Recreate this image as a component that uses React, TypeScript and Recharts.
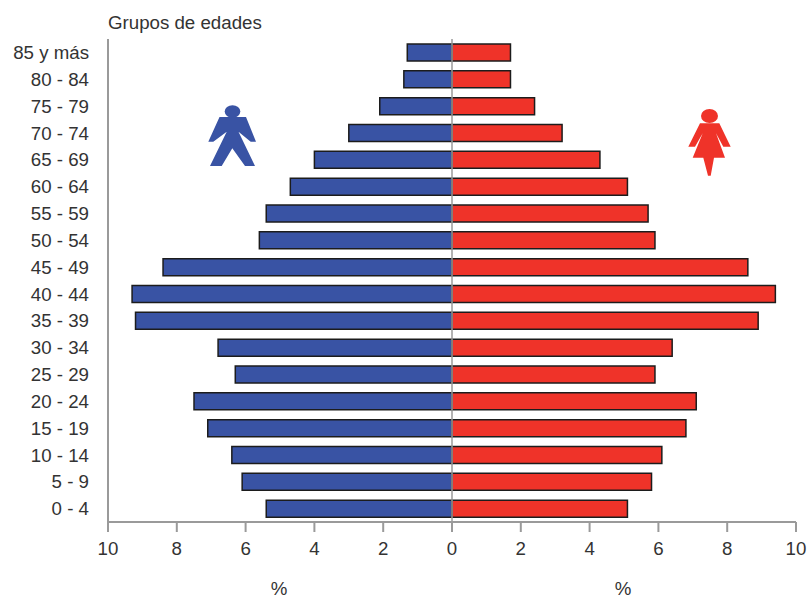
import { BarChart, Bar, XAxis, YAxis, ReferenceLine } from "recharts";

const ageGroups = ["85 y más", "80 - 84", "75 - 79", "70 - 74", "65 - 69", "60 - 64", "55 - 59", "50 - 54", "45 - 49", "40 - 44", "35 - 39", "30 - 34", "25 - 29", "20 - 24", "15 - 19", "10 - 14", "5 - 9", "0 - 4"];
const men = [1.3, 1.4, 2.1, 3.0, 4.0, 4.7, 5.4, 5.6, 8.4, 9.3, 9.2, 6.8, 6.3, 7.5, 7.1, 6.4, 6.1, 5.4];
const women = [1.7, 1.7, 2.4, 3.2, 4.3, 5.1, 5.7, 5.9, 8.6, 9.4, 8.9, 6.4, 5.9, 7.1, 6.8, 6.1, 5.8, 5.1];
const xTicks = [-10, -8, -6, -4, -2, 0, 2, 4, 6, 8, 10];

const data = ageGroups.map((group, i) => ({ group, men: -men[i], women: women[i] }));

const FONT = '"Liberation Sans", Arial, sans-serif';
const FONT_SIZE = 18.7;
const TEXT = "#333333";
const AXIS = "#9a9a9a";
const BLUE = "#3953a4";
const RED = "#ef3329";
const OUTLINE = "#1c1c1c";

function Overlay() {
  return (
    <svg width={808} height={599} style={{ position: "absolute", left: 0, top: 0, pointerEvents: "none" }}>
      <text x={108} y={29} fontFamily={FONT} fontSize={FONT_SIZE} fill={TEXT}>Grupos de edades</text>
      <text x={279} y={594.5} textAnchor="middle" fontFamily={FONT} fontSize={FONT_SIZE} fill={TEXT}>%</text>
      <text x={623} y={594.5} textAnchor="middle" fontFamily={FONT} fontSize={FONT_SIZE} fill={TEXT}>%</text>
      {/* man */}
      <ellipse cx={232.5} cy={111.5} rx={7.8} ry={6.3} fill={BLUE} />
      <polygon
        fill={BLUE}
        points="219.5,117 246,117 256,141.7 250.7,141.7 238.5,131.7 255,166 245,166 232.3,148.3 221.7,166 210,166 226.7,131.7 213.3,141.7 208.3,141.7"
      />
      {/* woman */}
      <ellipse cx={709.5} cy={116} rx={8.5} ry={7} fill={RED} />
      <polygon
        fill={RED}
        points="700,123.3 719.3,123.3 730.7,146.7 723.3,146.7 716,133.3 725,157.7 714,157.7 710.7,175.7 708,175.7 703.3,157.7 692.7,157.7 702.7,133.3 695,146.7 688.3,146.7"
      />
    </svg>
  );
}

export default function App() {
  return (
    <div style={{ position: "absolute", left: 0, top: 0, width: 808, height: 599, background: "#ffffff" }}>
      <BarChart
        width={808}
        height={599}
        data={data}
        layout="vertical"
        stackOffset="sign"
        barSize={17}
        margin={{ top: 39, right: 12, bottom: 0, left: 0 }}
      >
        <XAxis
          type="number"
          domain={[-10, 10]}
          ticks={xTicks}
          tickFormatter={(v: number) => String(Math.abs(v))}
          height={77}
          interval={0}
          tickSize={10}
          tickMargin={10}
          stroke={AXIS}
          strokeWidth={2}
          tick={{ fill: TEXT, fontSize: FONT_SIZE, fontFamily: FONT }}
        />
        <YAxis
          type="category"
          dataKey="group"
          width={108}
          interval={0}
          tickLine={false}
          tickMargin={13}
          stroke={AXIS}
          strokeWidth={2}
          tick={{ fill: TEXT, fontSize: FONT_SIZE, fontFamily: FONT }}
        />
        <Bar dataKey="men" stackId="a" fill={BLUE} stroke={OUTLINE} strokeWidth={1.5} isAnimationActive={false} />
        <Bar dataKey="women" stackId="a" fill={RED} stroke={OUTLINE} strokeWidth={1.5} isAnimationActive={false} />
        <ReferenceLine x={0} stroke={AXIS} strokeWidth={1.5} />
      </BarChart>
      <Overlay />
    </div>
  );
}
